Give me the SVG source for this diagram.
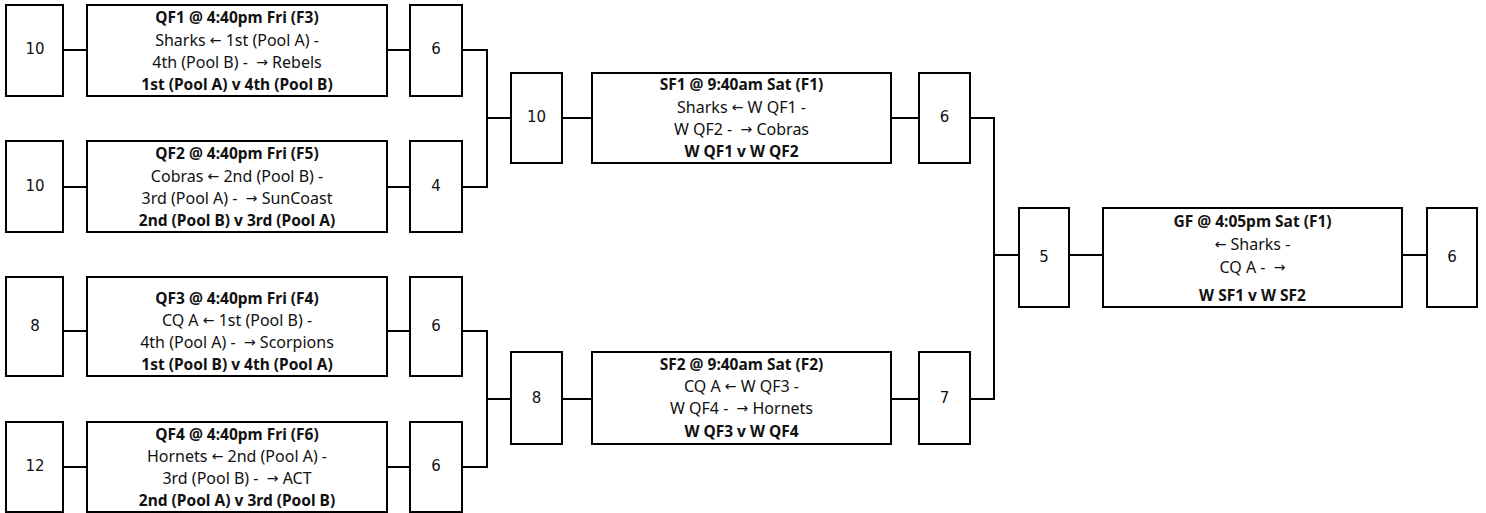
<svg xmlns="http://www.w3.org/2000/svg" width="1486" height="513" viewBox="0 0 1486 513">
<style>
.b{fill:#fff;stroke:#000;stroke-width:2}
.c{fill:none;stroke:#000;stroke-width:2}
.s{font-family:"DejaVu Sans",sans-serif;font-size:15px;fill:#111;text-anchor:middle;dominant-baseline:central}
.t{font-family:"Noto Sans","Liberation Sans",sans-serif;font-size:16px;fill:#111;text-anchor:middle;dominant-baseline:central;white-space:pre}
.h{font-weight:bold;font-size:15.5px}
.a{font-family:"DejaVu Sans",sans-serif;font-size:14px}
</style>
<rect width="1486" height="513" fill="#fff"/>
<g id="connectors">
<path class="c" d="M63 50H87M387 50H410M462 50H487V187H462M487 118H511"/>
<path class="c" d="M63 187H87M387 187H410"/>
<path class="c" d="M63 331H87M387 331H410M462 331H487V467H462M487 399H511"/>
<path class="c" d="M63 467H87M387 467H410"/>
<path class="c" d="M562 118H592M891 118H919M970 118H994V399H970M994 255H1019"/>
<path class="c" d="M562 399H592M891 399H919"/>
<path class="c" d="M1069 255H1103M1402 255H1427"/>
</g>
<g id="qf1">
<rect class="b" x="6" y="5" width="57" height="91"/>
<text class="s" x="35" y="49">10</text>
<rect class="b" x="87" y="5" width="300" height="91"/>
<text class="t h" x="237" y="17">QF1 @ 4:40pm Fri (F3)</text>
<text class="t" x="237" y="39.5">Sharks <tspan class="a">←</tspan> 1st (Pool A) -</text>
<text class="t" x="237" y="62">4th (Pool B) -  <tspan class="a">→</tspan> Rebels</text>
<text class="t h" x="237" y="84">1st (Pool A) v 4th (Pool B)</text>
<rect class="b" x="410" y="5" width="52" height="91"/>
<text class="s" x="436" y="49">6</text>
</g>
<g id="qf2">
<rect class="b" x="6" y="141" width="57" height="91"/>
<text class="s" x="35" y="186">10</text>
<rect class="b" x="87" y="141" width="300" height="91"/>
<text class="t h" x="237" y="153">QF2 @ 4:40pm Fri (F5)</text>
<text class="t" x="237" y="175.5">Cobras <tspan class="a">←</tspan> 2nd (Pool B) -</text>
<text class="t" x="237" y="198">3rd (Pool A) -  <tspan class="a">→</tspan> SunCoast</text>
<text class="t h" x="237" y="220">2nd (Pool B) v 3rd (Pool A)</text>
<rect class="b" x="410" y="141" width="52" height="91"/>
<text class="s" x="436" y="186">4</text>
</g>
<g id="qf3">
<rect class="b" x="6" y="277" width="57" height="99"/>
<text class="s" x="35" y="326">8</text>
<rect class="b" x="87" y="277" width="300" height="99"/>
<text class="t h" x="237" y="297.5">QF3 @ 4:40pm Fri (F4)</text>
<text class="t" x="237" y="319.5">CQ A <tspan class="a">←</tspan> 1st (Pool B) -</text>
<text class="t" x="237" y="341.5">4th (Pool A) -  <tspan class="a">→</tspan> Scorpions</text>
<text class="t h" x="237" y="363.5">1st (Pool B) v 4th (Pool A)</text>
<rect class="b" x="410" y="277" width="52" height="99"/>
<text class="s" x="436" y="326">6</text>
</g>
<g id="qf4">
<rect class="b" x="6" y="422" width="57" height="90"/>
<text class="s" x="35" y="466">12</text>
<rect class="b" x="87" y="422" width="300" height="90"/>
<text class="t h" x="237" y="433.5">QF4 @ 4:40pm Fri (F6)</text>
<text class="t" x="237" y="456">Hornets <tspan class="a">←</tspan> 2nd (Pool A) -</text>
<text class="t" x="237" y="478">3rd (Pool B) -  <tspan class="a">→</tspan> ACT</text>
<text class="t h" x="237" y="500">2nd (Pool A) v 3rd (Pool B)</text>
<rect class="b" x="410" y="422" width="52" height="90"/>
<text class="s" x="436" y="466">6</text>
</g>
<g id="sf1">
<rect class="b" x="511" y="73" width="51" height="90"/>
<text class="s" x="536.5" y="117">10</text>
<rect class="b" x="592" y="73" width="299" height="90"/>
<text class="t h" x="741.5" y="84">SF1 @ 9:40am Sat (F1)</text>
<text class="t" x="741.5" y="106.5">Sharks <tspan class="a">←</tspan> W QF1 -</text>
<text class="t" x="741.5" y="128.5">W QF2 -  <tspan class="a">→</tspan> Cobras</text>
<text class="t h" x="741.5" y="150.5">W QF1 v W QF2</text>
<rect class="b" x="919" y="73" width="51" height="90"/>
<text class="s" x="944.5" y="117">6</text>
</g>
<g id="sf2">
<rect class="b" x="511" y="352" width="51" height="92"/>
<text class="s" x="536.5" y="398">8</text>
<rect class="b" x="592" y="352" width="299" height="92"/>
<text class="t h" x="741.5" y="363.5">SF2 @ 9:40am Sat (F2)</text>
<text class="t" x="741.5" y="386">CQ A <tspan class="a">←</tspan> W QF3 -</text>
<text class="t" x="741.5" y="408">W QF4 -  <tspan class="a">→</tspan> Hornets</text>
<text class="t h" x="741.5" y="430.5">W QF3 v W QF4</text>
<rect class="b" x="919" y="352" width="51" height="92"/>
<text class="s" x="944.5" y="398">7</text>
</g>
<g id="gf">
<rect class="b" x="1019" y="208" width="50" height="99"/>
<text class="s" x="1044" y="257">5</text>
<rect class="b" x="1103" y="208" width="299" height="99"/>
<text class="t h" x="1252.5" y="221">GF @ 4:05pm Sat (F1)</text>
<text class="t" x="1252.5" y="243.5"><tspan class="a">←</tspan> Sharks -</text>
<text class="t" x="1252.5" y="266.5">CQ A -  <tspan class="a">→</tspan></text>
<text class="t h" x="1252.5" y="295">W SF1 v W SF2</text>
<rect class="b" x="1427" y="208" width="50" height="99"/>
<text class="s" x="1452" y="257">6</text>
</g>
</svg>
